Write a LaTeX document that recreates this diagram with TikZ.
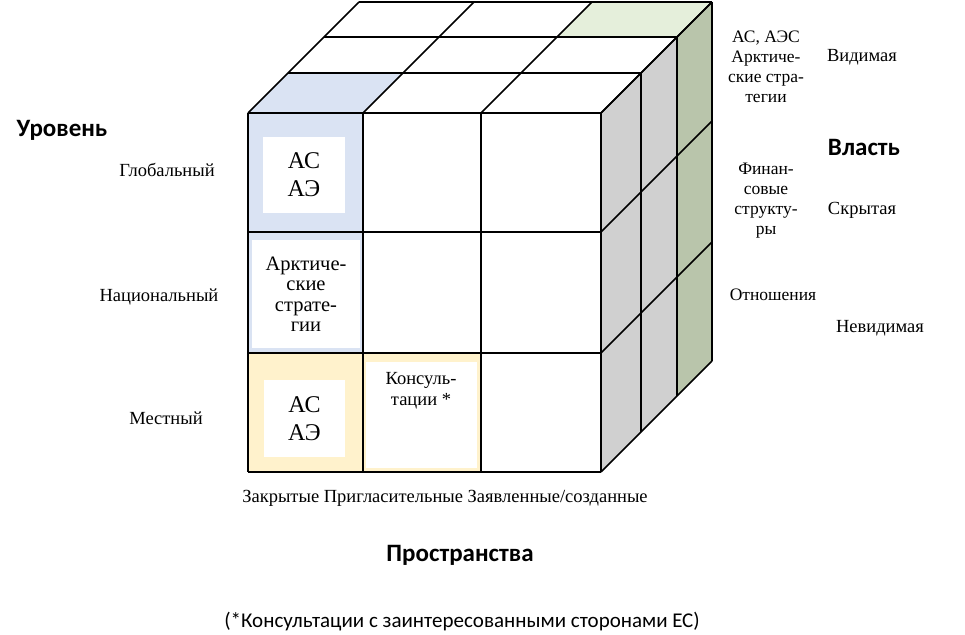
\documentclass[tikz,border=0pt]{standalone}
\usepackage{fontspec}
\setmainfont{Liberation Serif}
\newfontfamily\calibri{Carlito}
\usepackage{tikz}

\definecolor{cellblue}{HTML}{DAE3F3}
\definecolor{cellyellow}{HTML}{FFF2CC}
\definecolor{sidegray}{HTML}{D0D0D0}
\definecolor{sidegreen}{HTML}{B9C5AB}
\definecolor{topgreen}{HTML}{E5EFDB}

\begin{document}
\begin{tikzpicture}[x=1pt, y=-1pt, line width=1.6pt,
    serif/.style = {inner sep=0pt, font=\fontsize{18.5}{20}\selectfont},
    side/.style = {inner sep=0pt, align=center, font=\fontsize{17.5}{20}\selectfont},
    head/.style = {inner sep=0pt, font=\calibri\bfseries\fontsize{25}{28}\selectfont},
    inbox/.style = {fill=white, inner sep=0pt, align=center}]

\useasboundingbox (0,0) rectangle (965,634);

% coloured faces
\fill[sidegray] (601,113) -- (677,37) -- (677,396) -- (601,472) -- cycle;
\fill[sidegreen] (677,37) -- (712,2) -- (712,361) -- (677,396) -- cycle;
\fill[cellblue] (248,113) -- (363,113) -- (403,73) -- (288,73) -- cycle;
\fill[topgreen] (557,37) -- (677,37) -- (712,2) -- (592,2) -- cycle;
\fill[cellblue] (248,113) rectangle (363,353);
\fill[cellyellow] (248,353) rectangle (481,472);

% white boxes in the front cells
\node[inbox, minimum width=82, minimum height=76, font=\fontsize{24}{28}\selectfont]
    (globbox) at (304,175) {АС\\АЭ};
\node[inbox, minimum width=108, minimum height=108, font=\fontsize{20.5}{20.5}\selectfont]
    (natbox) at (306,294) {Арктиче-\\ские\\страте-\\гии};
\node[inbox, minimum width=81, minimum height=77, font=\fontsize{24}{28}\selectfont]
    (locbox) at (304.5,418.5) {АС\\АЭ};
\node[inbox, minimum width=111, minimum height=106] (konsbox) at (421.5,415) {};
\node[inbox, fill=none, anchor=north, font=\fontsize{18.5}{21}\selectfont]
    (kons) at (421,372) {Консуль-\\тации *};

% grid of the cube
\foreach \x in {248,363,481,601} {
    \draw (\x,113) -- (\x,472);
    \draw (\x,113) -- ({\x+111},2);
}
\foreach \y in {113,232,353,472} {
    \draw (248,\y) -- (601,\y);
    \draw (601,\y) -- (712,{\y-111});
}
\foreach \d in {40,76,111} {
    \draw ({248+\d},{113-\d}) -- ({601+\d},{113-\d});
    \draw ({601+\d},{113-\d}) -- ({601+\d},{472-\d});
}

% level axis
\node[head] (uroven) at (62,130) {Уровень};
\node[serif] (glob) at (167,170) {Глобальный};
\node[serif] (nat) at (159,297) {Национальный};
\node[serif] (loc) at (166,418) {Местный};

% power axis
\node[side] (vid1) at (766,67) {АС, АЭС\\Арктиче-\\ские стра-\\тегии};
\node[side] (fin) at (766,201) {Финан-\\совые\\структу-\\ры};
\node[side] (otn) at (773,295) {Отношения};
\node[serif] (vid) at (862,57) {Видимая};
\node[head] (vlast) at (864,147) {Власть};
\node[serif] (skr) at (862,210) {Скрытая};
\node[serif] (nevid) at (880,328) {Невидимая};

% spaces axis
\node[serif] (spaces) at (445,498) {Закрытые Пригласительные Заявленные/созданные};
\node[head] (prostr) at (460,555) {Пространства};
\node[inner sep=0pt, font=\calibri\fontsize{21}{24}\selectfont]
    (note) at (462,622) {(*Консультации с заинтересованными сторонами ЕС)};
\end{tikzpicture}
\end{document}
